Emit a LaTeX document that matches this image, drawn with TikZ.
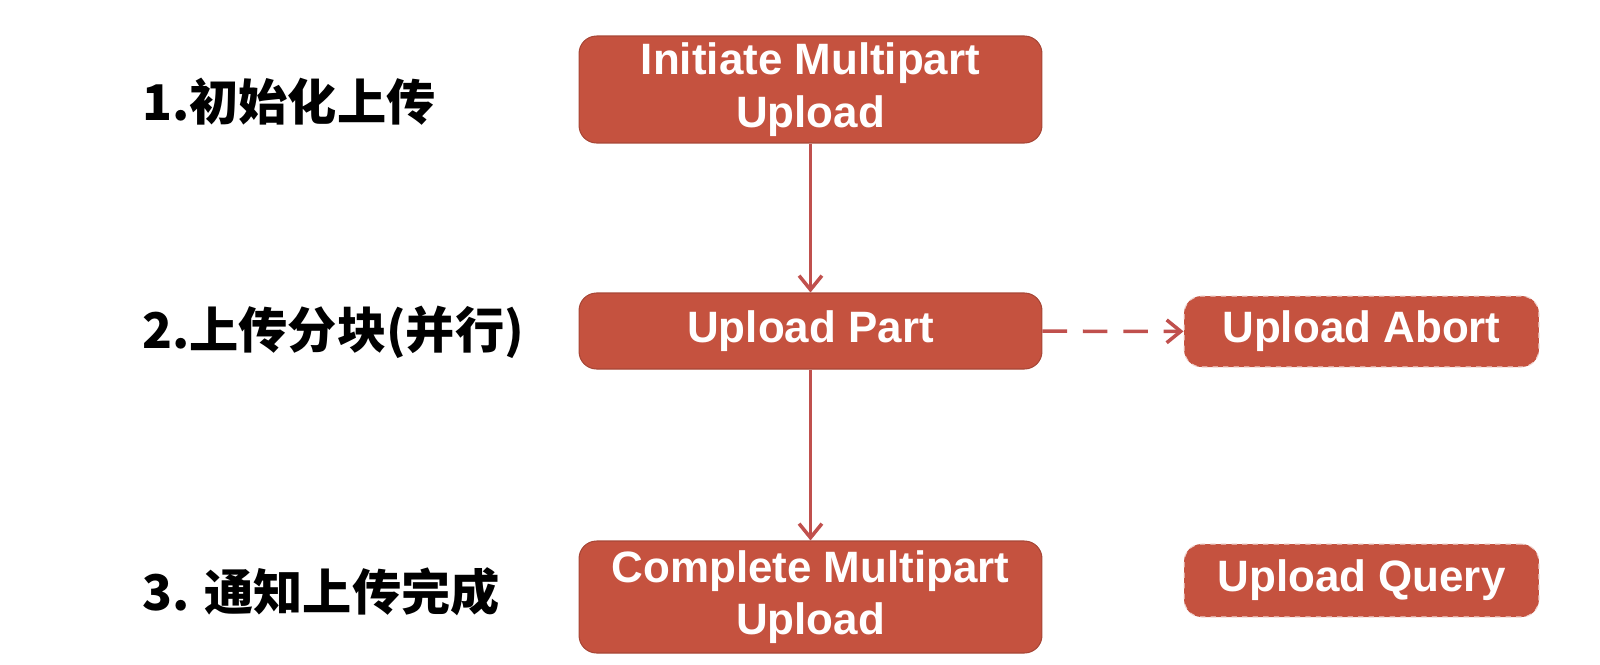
\documentclass[tikz,border=0pt]{standalone}
\usepackage{fontspec}
\setmainfont{Liberation Sans}
\newfontfamily\cjk{Noto Sans CJK SC}
\usepackage{xcolor}
\usepackage{tikz}
\usetikzlibrary{arrows.meta, positioning}

\definecolor{boxred}{HTML}{C5523F}
\definecolor{linered}{HTML}{C0504D}

\begin{document}
\begin{tikzpicture}[
    x=0.02cm, y=-0.02cm,
    box/.style={fill=boxred, draw=boxred!85!black, line width=0.6pt, rounded corners=10pt,
                minimum width=9.26cm, align=center, text=white,
                font=\fontsize{25}{30}\selectfont\bfseries},
    sidebox/.style={box, dashed, draw=white!75!boxred, minimum width=7.1cm},
    arrow/.style={-{Straight Barb[length=8pt, width=13pt]}, line width=2pt, draw=linered},
    step label/.style={anchor=west, font=\cjk\fontsize{28}{30}\selectfont\bfseries}
]
\useasboundingbox (0,0) rectangle (1600,664);

% Step labels
\node[step label] (s1) at (136,102) {1.初始化上传};
\node[step label] (s2) at (136,332) {2.上传分块(并行)};
\node[step label] (s3) at (136,592) {3. 通知上传完成};

% Main flow
\node[box, minimum height=2.14cm] (init)     at (810.5,89.5) {Initiate Multipart\\Upload};
\node[box, minimum height=1.52cm] (part)     at (810.5,331)  {Upload Part};
\node[box, minimum height=2.24cm] (complete) at (810.5,597)  {Complete Multipart\\Upload};

% Optional calls
\node[sidebox, minimum height=1.42cm] (abort) at (1361.5,331.5) {Upload Abort};
\node[sidebox, minimum height=1.46cm] (query) at (1361.5,580.5) {Upload Query};

\draw[arrow] (init) -- (part);
\draw[arrow] (part) -- (complete);
\draw[arrow, dash pattern=on 14pt off 9pt] (part) -- (abort);
\end{tikzpicture}
\end{document}
